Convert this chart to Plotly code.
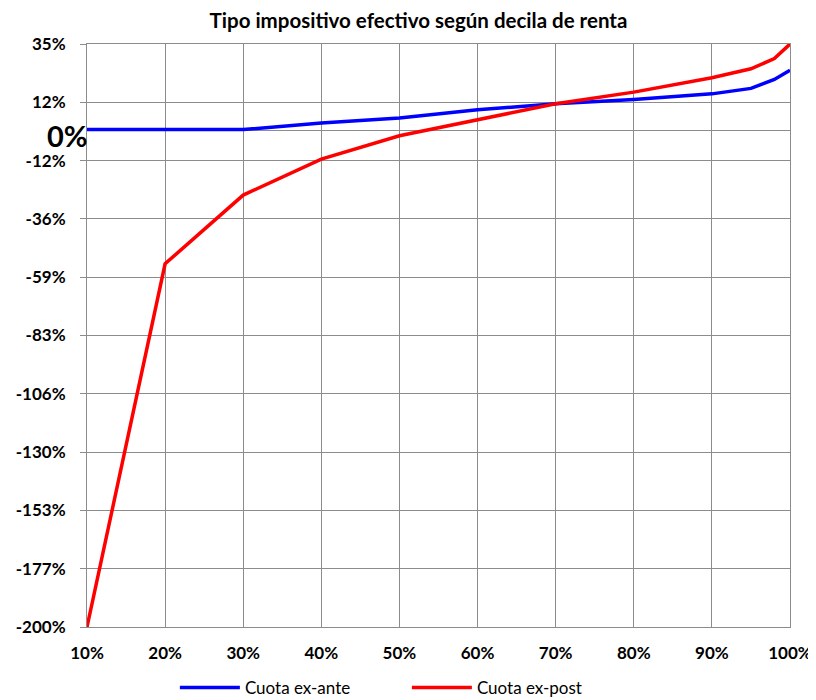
import plotly.graph_objects as go

deciles = [10, 20, 30, 40, 50, 60, 70, 80, 90, 95, 98, 100]
cuota_ex_ante = [0.5, 0.5, 0.5, 3.2, 5.2, 8.5, 10.9, 12.6, 14.9, 17.1, 20.7, 24.4]
cuota_ex_post = [-200, -53.6, -25.9, -11.4, -2.0, 4.5, 10.9, 15.6, 21.4, 25.0, 29.1, 35.0]

y_tickvals = [-200 + 23.5 * k for k in range(11)]
y_ticktext = ["-200%", "-177%", "-153%", "-130%", "-106%", "-83%", "-59%", "-36%", "-12%", "12%", "35%"]
x_tickvals = [10, 20, 30, 40, 50, 60, 70, 80, 90, 100]
x_ticktext = ["10%", "20%", "30%", "40%", "50%", "60%", "70%", "80%", "90%", "100%"]

FONT = "Lato"
GRID = "#8C8C8C"

fig = go.Figure()
fig.add_trace(go.Scatter(x=deciles, y=cuota_ex_ante, mode="lines", name="Cuota ex-ante",
                         line=dict(color="#0000FF", width=3.5)))
fig.add_trace(go.Scatter(x=deciles, y=cuota_ex_post, mode="lines", name="Cuota ex-post",
                         line=dict(color="#FF0000", width=3.5)))

# the page body has an 8px margin, so the figure is sized/offset to compensate
fig.update_layout(
    width=808, height=692,
    margin=dict(l=79, r=26, t=36, b=73, autoexpand=False),
    paper_bgcolor="white", plot_bgcolor="white",
    title=dict(text="<b>Tipo impositivo efectivo según decila de renta</b>",
               x=0.508, xanchor="center", y=0.981, yanchor="middle",
               font=dict(family=FONT, size=20.5, color="black")),
    font=dict(family=FONT, color="black"),
    showlegend=True,
    legend=dict(orientation="h", x=0.125, xanchor="left", y=-0.1046, yanchor="middle",
                bgcolor="rgba(0,0,0,0)",
                font=dict(family=FONT, size=17, color="black"),
                itemwidth=60, entrywidth=157, entrywidthmode="pixels",
                traceorder="normal"),
    xaxis=dict(range=[10, 100], tickvals=x_tickvals, ticktext=x_ticktext,
               showgrid=True, gridcolor=GRID, gridwidth=1, automargin=False,
               showline=True, linecolor=GRID, linewidth=1, mirror=True,
               zeroline=False, ticks="", ticklabelstandoff=11,
               tickfont=dict(family=FONT, size=17, color="black", weight="bold")),
    yaxis=dict(range=[-200, 35], tickvals=y_tickvals, ticktext=y_ticktext,
               showgrid=True, gridcolor=GRID, gridwidth=1, automargin=False,
               showline=True, linecolor=GRID, linewidth=1, mirror=True,
               zeroline=True, zerolinecolor=GRID, zerolinewidth=1,
               ticks="outside", ticklen=6, tickcolor=GRID, ticklabelstandoff=11,
               tickfont=dict(family=FONT, size=17, color="black", weight="bold")),
)

fig.add_annotation(text="<b>0%</b>", xref="paper", yref="y", x=0.004, y=-2,
                   xanchor="right", yanchor="middle", showarrow=False,
                   font=dict(family=FONT, size=29, color="black"))

fig.write_html("out.html")
